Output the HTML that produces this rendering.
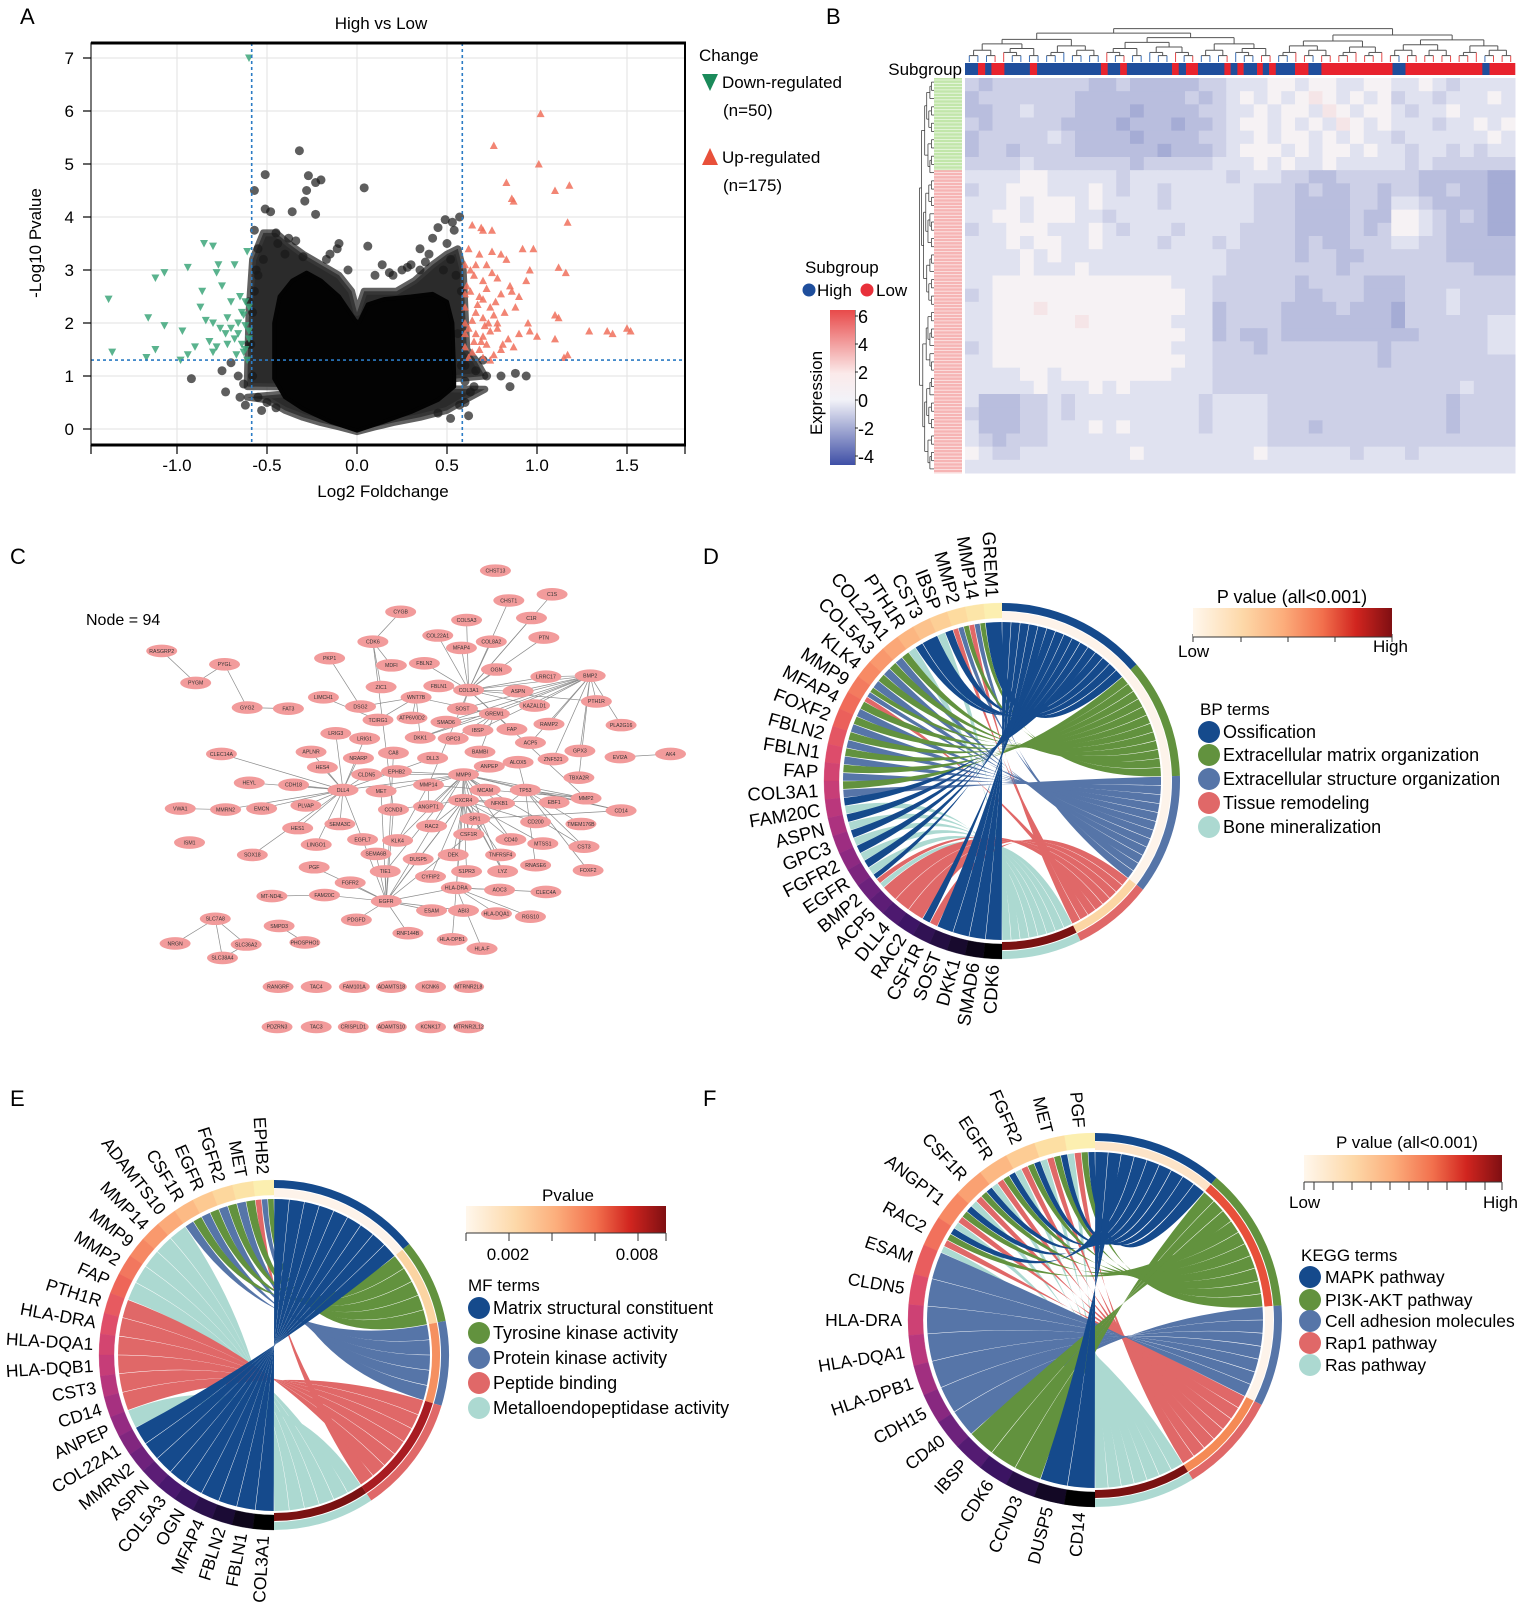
<!DOCTYPE html>
<html><head><meta charset="utf-8"><title>Figure</title>
<style>
html,body{margin:0;padding:0;background:#fff;}
svg{display:block;font-family:"Liberation Sans",Arial,sans-serif;}
</style></head>
<body>
<svg id="fig" width="1535" height="1614" viewBox="0 0 1535 1614" xmlns="http://www.w3.org/2000/svg">
<defs>
<linearGradient id="pgrad" x1="0" x2="1" y1="0" y2="0">
<stop offset="0" stop-color="#fff7ec"/><stop offset="0.25" stop-color="#fdd8a8"/><stop offset="0.45" stop-color="#fcae7c"/><stop offset="0.65" stop-color="#f2704d"/><stop offset="0.82" stop-color="#d1251f"/><stop offset="1" stop-color="#7f0f12"/>
</linearGradient>
<linearGradient id="egrad" x1="0" x2="0" y1="0" y2="1">
<stop offset="0" stop-color="#e84a4a"/><stop offset="0.41" stop-color="#fbeaea"/><stop offset="0.58" stop-color="#f2f2f8"/><stop offset="1" stop-color="#3f4fa6"/>
</linearGradient>
</defs>
<g id="panelA"></g>
<g id="panelB"></g>
<g id="panelC"></g>
<g id="panelD"></g>
<g id="panelE"></g>
<g id="panelF"></g>

<text x="20" y="24" font-size="22">A</text>
<text x="826" y="24" font-size="22">B</text>
<text x="10" y="564" font-size="22">C</text>
<text x="703" y="564" font-size="22">D</text>
<text x="10" y="1106" font-size="22">E</text>
<text x="703" y="1106" font-size="22">F</text>

<text x="381" y="29" font-size="17" text-anchor="middle">High vs Low</text>
<text x="383" y="497" font-size="17" text-anchor="middle">Log2 Foldchange</text>
<text x="0" y="0" font-size="17" text-anchor="middle" transform="translate(41,243) rotate(-90)">-Log10 Pvalue</text>
<g>
<text x="699" y="61" font-size="17">Change</text>
<path d="M702,74 L718,74 L710,91 Z" fill="#1a8a5a"/>
<text x="722" y="88" font-size="17">Down-regulated</text>
<text x="723" y="116" font-size="17">(n=50)</text>
<path d="M702,165 L718,165 L710,148 Z" fill="#e8503a"/>
<text x="722" y="163" font-size="17">Up-regulated</text>
<text x="723" y="191" font-size="17">(n=175)</text>
</g>

<g>
<text x="962" y="75" font-size="17" text-anchor="end">Subgroup</text>
<text x="805" y="273" font-size="17">Subgroup</text>
<circle cx="809" cy="290" r="6.5" fill="#1f4e9c"/>
<text x="817" y="296" font-size="17">High</text>
<circle cx="867" cy="290" r="6.5" fill="#e8303a"/>
<text x="876" y="296" font-size="17">Low</text>
<rect x="830" y="310" width="25" height="155" fill="url(#egrad)"/>
<text x="0" y="0" font-size="17" text-anchor="middle" transform="translate(822,393) rotate(-90)">Expression</text>
</g>

<text x="86" y="625" font-size="16">Node = 94</text>

<g>
<text x="1292" y="603" font-size="18" text-anchor="middle">P value (all&lt;0.001)</text>
<rect x="1193" y="608" width="199" height="29" fill="url(#pgrad)"/>
<line x1="1193" y1="637" x2="1392" y2="637" stroke="#333" stroke-width="1"/>
<text x="1178" y="657" font-size="17">Low</text>
<text x="1373" y="652" font-size="17">High</text>
<text x="1200" y="715" font-size="17">BP terms</text>
</g>
<g>
<text x="568" y="1201" font-size="17" text-anchor="middle">Pvalue</text>
<rect x="466" y="1206" width="200" height="27" fill="url(#pgrad)"/>
<line x1="466" y1="1233" x2="666" y2="1233" stroke="#333" stroke-width="1"/>
<text x="508" y="1260" font-size="17" text-anchor="middle">0.002</text>
<text x="637" y="1260" font-size="17" text-anchor="middle">0.008</text>
<text x="468" y="1291" font-size="17">MF terms</text>
</g>
<g>
<text x="1407" y="1148" font-size="17" text-anchor="middle">P value (all&lt;0.001)</text>
<rect x="1304" y="1155" width="198" height="27" fill="url(#pgrad)"/>
<line x1="1304" y1="1182" x2="1502" y2="1182" stroke="#333" stroke-width="1"/>
<text x="1289" y="1208" font-size="17">Low</text>
<text x="1483" y="1208" font-size="17">High</text>
<text x="1301" y="1261" font-size="17">KEGG terms</text>
</g>
</svg>
<script>
// ---------- DATA ----------
const volcXTicks = [-1.0, -0.5, 0.0, 0.5, 1.0, 1.5];
const volcXTickLabels = ["-1.0", "-0.5", "0.0", "0.5", "1.0", "1.5"];
const volcYTicks = [0, 1, 2, 3, 4, 5, 6, 7];
const fcThreshold = 0.585;
const pThreshold = 1.3;
// loose (overlapping-dot) envelope
const looseUpperX = [-0.61, -0.6, -0.58, -0.52, -0.45, -0.38, -0.3, -0.2, -0.1, -0.03, 0.0, 0.04, 0.12, 0.22, 0.32, 0.42, 0.5, 0.56, 0.59, 0.61, 0.66, 0.71];
const looseUpperY = [0.8, 2.2, 3.2, 3.7, 3.7, 3.5, 3.3, 3.1, 2.9, 2.6, 2.2, 2.6, 2.6, 2.6, 2.8, 3.1, 3.3, 3.4, 3.0, 1.5, 1.3, 1.0];
const looseLowerX = [-0.61, -0.5, -0.4, -0.3, -0.2, -0.1, 0.0, 0.1, 0.2, 0.35, 0.5, 0.6, 0.71];
const looseLowerY = [0.6, 0.55, 0.35, 0.22, 0.12, 0.04, -0.05, 0.04, 0.12, 0.22, 0.35, 0.55, 0.75];
// solid core envelope
const coreUpperX = [-0.46, -0.43, -0.36, -0.28, -0.2, -0.1, -0.01, 0.01, 0.06, 0.15, 0.3, 0.42, 0.5, 0.53, 0.54];
const coreUpperY = [2.0, 2.5, 2.8, 2.95, 2.8, 2.5, 2.05, 2.0, 2.35, 2.45, 2.5, 2.55, 2.4, 2.0, 1.0];
const coreLowerX = [0.54, 0.45, 0.3, 0.15, 0.0, -0.15, -0.3, -0.4, -0.46];
const coreLowerY = [0.8, 0.55, 0.32, 0.14, -0.03, 0.14, 0.38, 0.6, 0.95];
const nsX = [-0.32,-0.51,-0.27,-0.2,-0.23,0.04,-0.57,-0.28,-0.29,-0.51,-0.48,-0.36,-0.23,0.57,0.49,0.53,0.45,0.54,-0.57,-0.45,-0.38,0.06,-0.1,-0.11,0.35,0.5,0.4,-0.55,-0.52,0.25,0.2,-0.56,0.35,0.55,-0.6,-0.92,-0.75,-0.73,-0.66,-0.7,0.7,0.72,0.8,0.85,0.88,0.94,0.65,0.6,-0.55,0.45,0.6,-0.5,0.62,-0.62,0.3,0.1,-0.15,-0.4,0.14,-0.44,-0.3,0.42,0.52,-0.58,0.58,0.48,-0.6,-0.45,0.56,-0.58,-0.59,-0.57,-0.55,0.58,0.6,0.63,0.66,-0.63,-0.65,-0.53,0.52,0.57,-0.34,-0.17,0.18,0.28,-0.05,0.38];
const nsY = [5.25,4.8,4.78,4.7,4.65,4.55,4.5,4.5,4.3,4.15,4.1,4.1,4.05,4.0,3.95,3.9,3.8,3.75,3.75,3.7,3.6,3.45,3.5,3.4,3.4,3.5,3.3,3.4,3.2,3.0,2.9,3.0,3.0,2.9,2.4,0.95,1.1,0.7,1.0,1.25,1.3,1.0,1.0,0.8,1.05,1.0,0.8,0.5,0.6,0.3,1.2,0.5,0.25,0.45,3.1,2.9,3.3,3.3,3.1,3.5,3.25,3.6,3.2,2.2,2.6,3.0,1.6,0.4,1.8,1.0,1.6,2.6,2.9,1.2,0.9,0.7,1.1,0.85,0.6,0.35,0.2,0.45,3.55,3.2,2.95,3.05,3.0,3.15];
const downX = [-0.6,-0.85,-0.8,-0.94,-1.07,-1.12,-0.77,-0.78,-0.68,-0.75,-0.86,-1.38,-0.87,-0.7,-0.65,-0.62,-1.16,-1.07,-0.97,-0.8,-0.72,-0.7,-0.66,-0.63,-0.6,-0.82,-0.78,-0.73,-0.68,-0.64,-1.36,-1.12,-0.94,-0.98,-1.17,-0.8,-0.62,-0.61,-0.6,-0.61,-0.62,-0.64,-0.66,-0.6,-0.76,-0.72,-0.67,-0.84,-0.9,-0.63];
const downY = [7.0,3.5,3.45,3.05,2.95,2.85,3.1,2.95,3.1,2.7,2.6,2.45,2.3,2.4,2.5,2.4,2.1,1.95,1.85,2.0,2.1,1.9,2.0,2.15,1.85,1.65,1.55,1.8,1.7,1.6,1.45,1.5,1.4,1.3,1.35,1.45,1.5,1.3,2.3,3.35,1.95,2.2,1.8,1.7,1.9,1.6,1.4,2.05,1.55,1.45];
const upX = [1.02,0.76,1.01,0.83,1.18,1.1,0.87,0.86,1.17,0.64,0.69,0.7,0.75,0.62,0.68,0.75,0.8,0.83,0.92,0.98,0.96,1.12,1.16,0.6,0.65,0.7,0.75,0.78,0.85,0.63,0.68,0.72,0.77,0.8,0.86,0.9,0.94,0.6,0.66,0.7,0.74,0.78,0.82,0.88,0.95,1.1,1.12,0.62,0.66,0.7,0.74,0.78,0.84,0.9,0.96,1.0,1.1,1.29,1.39,1.42,1.5,1.52,0.6,0.64,0.68,0.72,0.76,0.8,0.87,1.15,1.17,0.62,0.7,0.74,0.6,0.64,0.67,0.71,0.73,0.65,0.69,0.6,0.61,0.63,0.66,0.72,0.6,0.7,0.76,0.81];
const upY = [5.95,5.35,5.0,4.65,4.6,4.5,4.3,4.35,3.9,3.85,3.8,3.75,3.75,3.4,3.3,3.35,3.3,3.2,3.4,3.4,3.0,3.05,2.95,3.1,2.9,2.8,2.95,2.85,2.7,2.6,2.5,2.65,2.4,2.55,2.6,2.5,2.8,2.3,2.2,2.1,2.3,2.0,2.2,2.3,2.0,2.15,2.1,1.9,1.8,1.75,1.85,1.9,1.7,1.8,1.85,1.75,1.7,1.85,1.85,1.8,1.9,1.85,1.55,1.45,1.5,1.6,1.4,1.5,1.55,1.35,1.4,1.35,1.35,1.3,2.0,2.05,2.35,1.95,2.0,1.65,1.65,1.8,2.7,3.0,3.1,3.1,2.55,2.45,2.15,1.6];

// heatmap
const subgroupRuns = [["H",27],["L",15],["H",13],["L",27],["H",53],["L",15],["H",133],["L",14],["H",26],["L",14],["H",94],["L",14],["H",15],["L",25],["H",55],["L",13],["H",14],["L",13],["H",28],["L",12],["H",13],["L",14],["H",40],["L",28],["H",27],["L",148],["H",27],["L",160],["H",15],["L",53]];
const rowGroups = ["G","G","G","G","G","G","G","R","R","R","R","R","R","R","R","R","R","R","R","R","R","R","R","R","R","R","R","R","R","R"];
const heatRows = [
"4344444443343333344555665665566556545555",
"3444444433333333434565656765656455455565",
"3344544433332333344556566576566545565555",
"4344444333323332334566565657656555455656",
"3444445433332333344556566565655455555565",
"3443444433333323334566656566565545545455",
"4444544444443444445556565565555545444444",
"5555665555545555555455544334444443333322",
"4556665556545545555554443433443443343322",
"5556566656555545555554443333443554333322",
"5566566655455555555554443333433665434322",
"4556665556545554555544443333434665433322",
"5556566556555545554544443433444554433333",
"5555656555555555555444443443344444433333",
"5555655565555555555444444443444444444333",
"5566666666666665554444443444433344444444",
"4566666666666666554444443344433344454444",
"5566676666666666553444433334333244454444",
"5566666676666665553444433333333244444455",
"5566666666666666553433433333333334444455",
"4566666666666665554443444444443444444455",
"5566666666666666554444444444443444444444",
"5555665666666665554444444444444444444444",
"5555565556565555554444444444444444445444",
"5333445455555555545555444444444444434444",
"4333445455555555545555444444444444434444",
"5333445556565555545555444344444444434444",
"5434445555555555555555444444444444444444",
"6544555555556555555556555555455545555555",
"5555555555555555555555555555555555555555"];
const exprTicks = [6, 4, 2, 0, -2, -4];

// network
const netNodes = "CHST13,481,554;CHST1,494,583;C1S,536,577;C1R,516,600;CYGB,389,594;COL5A3,453,602;COL22A1,425,617;COL8A2,477,623;MFAP4,448,629;PTN,528,619;CDK6,362,623;FBLN2,412,644;OGN,482,650;MDFI,380,646;PKP1,320,639;RASGRP2,157,632;PYGL,218,645;PYGM,190,663;BMP2,573,656;LRRC17,530,657;ASPN,503,671;COL3A1,455,670;FBLN1,426,666;ZIC1,370,667;LIMCH1,314,677;GYG2,240,687;FAT3,280,688;DSG2,350,686;TCIRG1,367,699;WNT7B,404,677;SOST,449,688;KAZALD1,519,685;PTH1R,579,681;GREM1,480,693;ATP6V0D2,400,697;SMAD6,433,701;RAMP2,533,703;PLA2G16,603,704;LRIG3,326,712;LRIG1,354,717;IBSP,464,709;FAP,497,708;CLEC14A,215,732;APLNR,302,730;DKK1,408,716;GPC3,440,717;BAMBI,466,730;ACP5,515,721;GPX3,563,729;EVI2A,602,735;AK4,651,732;HES4,313,745;NRARP,348,736;CA8,382,731;DLL3,420,736;ALOX5,503,740;ZNF521,537,737;HEYL,242,760;MMRN2,219,786;EMCN,254,785;CDH18,285,762;CLDN5,356,752;EPHB2,385,749;MMP9,450,752;ANPEP,475,744;TBXA2R,562,755;VWA1,175,785;PLVAP,297,782;DLL4,333,767;MET,370,768;MMP14,416,762;MCAM,471,767;TP53,510,767;MMP2,569,775;CXCR4,450,777;NFKB1,485,780;EBF1,538,779;ANGPT1,416,783;CCND3,382,786;CD14,603,787;ISM1,184,818;SEMA3C,330,800;KLK4,386,816;RAC2,419,802;SPI1,461,795;CD200,520,798;TMEM176B,564,800;HES1,289,804;EGFL7,352,815;CSF1R,455,810;CD40,496,815;MTSS1,527,819;CST3,567,822;SOX18,245,830;LINGO1,307,820;SEMA6B,365,829;DUSP5,406,834;DEK,440,830;TNFRSF4,486,830;RNASE6,520,840;FOXF2,571,845;PGF,305,842;TIE1,374,846;CYFIP2,418,851;S1PR3,453,846;LYZ,488,846;FGFR2,340,857;HLA-DRA,443,862;AOC3,485,864;CLEC4A,530,866;MT-ND4L,264,870;FAM20C,315,869;EGFR,375,875;ESAM,419,884;ABI3,450,884;HLA-DQA1,482,887;RGS10,515,890;PDGFD,346,893;SLC7A8,209,892;SMPD3,271,899;PHOSPHO1,296,915;RNF144B,396,906;HLA-DPB1,439,912;HLA-F,468,921;NRGN,170,916;SLC36A2,239,917;SLC38A4,216,930;RANGRF,270,958;TAC4,307,958;FAM101A,344,958;ADAMTS18,380,958;KCNK6,418,958;MTRNR2L8,455,958;PDZRN3,269,997;TAC3,307,997;CRISPLD1,343,997;ADAMTS10,380,997;KCNK17,418,997;MTRNR2L12,455,997";
const netEdges = [
["COL3A1","COL5A3 FBLN1 FBLN2 MFAP4 OGN ASPN COL8A2 COL22A1 SOST GREM1 LRRC17 BMP2 KAZALD1 FAP PTH1R MMP2 MMP14 CHST1 C1S C1R PTN"],
["BMP2","GREM1 SOST PTH1R DKK1 SMAD6 KAZALD1 RAMP2 ACP5 IBSP ZNF521 GPX3 LRRC17 ASPN TBXA2R PLA2G16"],
["GREM1","SOST DKK1 BAMBI SMAD6 GPC3 IBSP FAP WNT7B"],
["MMP9","MMP2 MMP14 CXCR4 SPI1 CSF1R CD14 EGFR TIE1 DLL4 ANGPT1 ALOX5 TP53 MCAM ANPEP KLK4 CST3 LYZ CD40 HLA-DRA MET CLDN5 EPHB2 NFKB1"],
["CXCR4","SPI1 CSF1R CD40 LYZ TNFRSF4 HLA-DRA S1PR3 CYFIP2 DUSP5 DEK CCND3 RAC2 EGFR CD200 MTSS1 EBF1 NFKB1"],
["EGFR","FGFR2 MET PGF PDGFD TIE1 ESAM HLA-DRA FAM20C EGFL7 SEMA6B TP53 CCND3 DUSP5 ABI3 RNF144B CA8"],
["DLL4","HES1 HES4 HEYL NRARP DLL3 EMCN CLDN5 PLVAP APLNR CDH18 LRIG1 LRIG3 SEMA3C EGFL7 LINGO1 SOX18 MMRN2 CLEC14A"],
["HLA-DRA","HLA-DQA1 HLA-DPB1 HLA-F AOC3 RGS10 CLEC4A"],
["TP53","MMP2 CD14 TMEM176B CST3 FOXF2 RNASE6 ALOX5"],
["CDK6","CCND3 ZIC1 MDFI CYGB"],
["WNT7B","DKK1 ATP6V0D2 DSG2 TCIRG1"],
["PYGL","PYGM GYG2"],["PYGM","RASGRP2"],["GYG2","FAT3"],["LIMCH1","TCIRG1"],["PKP1","DSG2"],
["SLC7A8","NRGN SLC36A2 SLC38A4"],["SLC36A2","SLC38A4"],["SMPD3","PHOSPHO1"],["MT-ND4L","FAM20C"],
["VWA1","MMRN2"],["EVI2A","AK4"],["SPI1","CD14 LYZ CSF1R"],["MMP14","MMP2 KLK4 ANGPT1"]];

// chords
const termColors = ["#154a8c", "#62923e", "#5675a8", "#e06868", "#acd9d1"];
const geneRingColors = ["#fcefb0","#fdd49a","#fcb27e","#f78b64","#ee6458","#dc4a6c","#bd387c","#962b82","#6b217c","#41166a","#1f0d3c","#000000"];
const dGenes = ["GREM1","MMP14","MMP2","IBSP","CST3","PTH1R","COL22A1","COL5A3","KLK4","MMP9","MFAP4","FOXF2","FBLN2","FBLN1","FAP","COL3A1","FAM20C","ASPN","GPC3","FGFR2","EGFR","BMP2","ACP5","DLL4","RAC2","CSF1R","SOST","DKK1","SMAD6","CDK6"];
const dMembership = [[0],[1,2,3],[1,2,3],[0,4],[0],[0,4],[1,2],[1,2],[1,2],[1,2,3],[1,2],[1,2],[1,2],[1,2],[1,2],[1,2],[0,4],[0,4],[0,4],[0,4],[0,4],[0,3,4],[3],[3],[3],[0,3],[0],[0],[0],[0]];
const dTerms = ["Ossification","Extracellular matrix organization","Extracellular structure organization","Tissue remodeling","Bone mineralization"];
const dTermP = ["#fdf3ea","#fdf3ea","#fdf3ea","#fcd6a4","#7a1212"];
const eGenes = ["EPHB2","MET","FGFR2","EGFR","CSF1R","ADAMTS10","MMP14","MMP9","MMP2","FAP","PTH1R","HLA-DRA","HLA-DQA1","HLA-DQB1","CST3","CD14","ANPEP","COL22A1","MMRN2","ASPN","COL5A3","OGN","MFAP4","FBLN2","FBLN1","COL3A1"];
const eMembership = [[1,2,3],[1,2],[1,2],[1,2],[1,2],[4],[4],[4],[4],[4],[3],[3],[3],[3],[3],[3],[4],[0],[0],[0],[0],[0],[0],[0],[0],[0]];
const eTerms = ["Matrix structural constituent","Tyrosine kinase activity","Protein kinase activity","Peptide binding","Metalloendopeptidase activity"];
const eTermP = ["#fdf3ea","#fbd4a2","#f59060","#a81c22","#7a1212"];
const fGenes = ["PGF","MET","FGFR2","EGFR","CSF1R","ANGPT1","RAC2","ESAM","CLDN5","HLA-DRA","HLA-DQA1","HLA-DPB1","CDH15","CD40","IBSP","CDK6","CCND3","DUSP5","CD14"];
const fMembership = [[0,1,3,4],[0,1,3,4],[0,1,3,4],[0,1,3,4],[0,1,3,4],[0,1,3,4],[0,1,3,4],[2],[2],[2],[2],[2],[2],[2],[1],[1],[1],[0],[0]];
const fTerms = ["MAPK pathway","PI3K-AKT pathway","Cell adhesion molecules","Rap1 pathway","Ras pathway"];
const fTermP = ["#fde4c8","#e8503a","#fdf3ea","#f58a55","#7a1212"];

// ---------- HELPERS ----------
const NS = "http://www.w3.org/2000/svg";
function mk(tag, attrs, parent) {
  const e = document.createElementNS(NS, tag);
  for (const k in attrs) e.setAttribute(k, attrs[k]);
  parent.appendChild(e);
  return e;
}
function hex2rgb(h){return [parseInt(h.substr(1,2),16),parseInt(h.substr(3,2),16),parseInt(h.substr(5,2),16)];}
function lerpCol(a,b,t){const A=hex2rgb(a),B=hex2rgb(b);return "rgb("+A.map((v,i)=>Math.round(v+(B[i]-v)*t)).join(",")+")";}
function paletteAt(pal,t){const n=pal.length-1;const i=Math.min(n-1,Math.floor(t*n));return lerpCol(pal[i],pal[i+1],t*n-i);}

// ---------- PANEL A ----------
(function(){
  const g = document.getElementById("panelA");
  const vx = v => 357 + 180 * v, vy = v => 429 - 53 * v;
  const L = 91, R = 685, T = 43, B = 445;
  volcXTicks.forEach(v => {
    const l = mk("line",{x1:vx(v),x2:vx(v),y1:T,y2:B,stroke:"#e6e6e6","stroke-width":1.2},g);
    
    
  });
  volcYTicks.forEach(v => {
    const l = mk("line",{x1:L,x2:R,y1:vy(v),y2:vy(v),stroke:"#e6e6e6","stroke-width":1.2},g);
    
    
  });
  function envPath(ux,uy,lx,ly){
    let d = "";
    ux.forEach((x,i)=>{ d += (i?"L":"M") + vx(x).toFixed(1) + "," + vy(uy[i]).toFixed(1); });
    lx.forEach((x,i)=>{ d += "L" + vx(x).toFixed(1) + "," + vy(ly[i]).toFixed(1); });
    return d+"Z";
  }
  const loose = mk("path",{d:envPath(looseUpperX,looseUpperY,looseLowerX,looseLowerY),fill:"#2b2b2b",stroke:"#3a3a3a","stroke-width":7,"stroke-linejoin":"round","stroke-opacity":0.8},g);
  
  
  nsX.forEach((x,i)=>{
    const c = mk("circle",{cx:vx(x),cy:vy(nsY[i]),r:4.5,fill:"#1a1a1a","fill-opacity":0.7},g);
    
    
  });
  const core = mk("path",{d:envPath(coreUpperX,coreUpperY,coreLowerX,coreLowerY),fill:"#030303",stroke:"#030303","stroke-width":4,"stroke-linejoin":"round"},g);
  
  
  downX.forEach((x,i)=>{
    const cx=vx(x), cy=vy(downY[i]);
    const p = mk("path",{d:`M${cx-4},${cy-3.5}L${cx+4},${cy-3.5}L${cx},${cy+4}Z`,fill:"#3da67a","fill-opacity":0.85},g);
    
    
  });
  upX.forEach((x,i)=>{
    const cx=vx(x), cy=vy(upY[i]);
    const p = mk("path",{d:`M${cx-4},${cy+3.5}L${cx+4},${cy+3.5}L${cx},${cy-4}Z`,fill:"#f0705c","fill-opacity":0.85},g);
    
    
  });
  [-fcThreshold, fcThreshold].forEach(v=>{
    const l = mk("line",{x1:vx(v),x2:vx(v),y1:T,y2:B,stroke:"#2b7bc4","stroke-width":1.6,"stroke-dasharray":"3,3"},g);
    
    
  });
  const hl = mk("line",{x1:L,x2:R,y1:vy(pThreshold),y2:vy(pThreshold),stroke:"#2b7bc4","stroke-width":1.6,"stroke-dasharray":"3,3"},g);
  
  
  const box = mk("rect",{x:L,y:T,width:R-L,height:B-T,fill:"none",stroke:"#222","stroke-width":1.2},g);
  
  
  [T,B].forEach(y=>{
    const l = mk("line",{x1:L,x2:R+1,y1:y,y2:y,stroke:"#000","stroke-width":3},g);
    
    
  });
  const rl = mk("line",{x1:R,x2:R,y1:T,y2:B,stroke:"#000","stroke-width":2},g);
  
  
  volcXTicks.forEach((v,i)=>{
    const t = mk("line",{x1:vx(v),x2:vx(v),y1:B,y2:B+9,stroke:"#000","stroke-width":1.2},g);
    
    
    const tx = mk("text",{x:vx(v),y:B+26,"font-size":17,"text-anchor":"middle"},g);
    tx.textContent = volcXTickLabels[i];
    
    
  });
  [L,R].forEach(x=>{
    const t = mk("line",{x1:x,x2:x,y1:B,y2:B+9,stroke:"#000","stroke-width":1.2},g);
    
    
  });
  volcYTicks.forEach(v=>{
    const t = mk("line",{x1:L-8,x2:L,y1:vy(v),y2:vy(v),stroke:"#000","stroke-width":1.2},g);
    
    
    const tx = mk("text",{x:74,y:vy(v)+6,"font-size":17,"text-anchor":"end"},g);
    tx.textContent = String(v);
    
    
  });
})();

// ---------- PANEL B ----------
(function(){
  const g = document.getElementById("panelB");
  const hx0=965, hx1=1515, hy0=78, hy1=473;
  const nR = heatRows.length, nC = heatRows[0].length;
  const cw=(hx1-hx0)/nC, ch=(hy1-hy0)/nR;
  function hcol(v){ return v<0 ? lerpCol("#f4f4f9","#3f4fa6",Math.min(1,-v/4.6)) : lerpCol("#f6f2f4","#e84a4a",Math.min(1,v/6.4)); }
  heatRows.forEach((row,r)=>{
    for(let c=0;c<nC;c++){
      const v=(parseInt(row[c])-6)*0.5;
      const rc = mk("rect",{x:(hx0+c*cw).toFixed(2),y:(hy0+r*ch).toFixed(2),width:(cw+0.5).toFixed(2),height:(ch+0.5).toFixed(2),fill:hcol(v)},g);
      
      
    }
  });
  const tot = subgroupRuns.reduce((s,r)=>s+r[1],0);
  let acc=0;
  const sgAt = [];
  subgroupRuns.forEach(r=>{
    const x0 = hx0 + acc/tot*(hx1-hx0), w = r[1]/tot*(hx1-hx0);
    const rc = mk("rect",{x:x0,y:63,width:w+0.3,height:12,fill:r[0]==="H"?"#1f4e9c":"#e8232e"},g);
    
    
    sgAt.push([x0,x0+w,r[0]]);
    acc+=r[1];
  });
  function groupAt(x){ for(const s of sgAt) if(x>=s[0]&&x<s[1]) return s[2]; return "L"; }
  const nLeaf=64, lw=(hx1-hx0)/nLeaf;
  function build(lo,hi,dp){
    if(hi-lo===1){ const x=hx0+(lo+0.5)*lw; return {x:x,y:62,col:groupAt(x)==="H"?"#3a6fb8":"#e84a4a"}; }
    const m = lo+Math.max(1,Math.min(hi-lo-1,Math.round((hi-lo)*(dp%2?0.45:0.56))));
    const a=build(lo,m,dp+1), b=build(m,hi,dp+1);
    const y = 62-5.4*Math.log2(hi-lo)-1;
    [[a,a.col],[b,b.col]].forEach(([n,cc])=>{
      const l = mk("line",{x1:n.x,x2:n.x,y1:n.y,y2:y,stroke:(n.y===62?cc:"#555"),"stroke-width":1},g);
      
      
    });
    const h = mk("line",{x1:a.x,x2:b.x,y1:y,y2:y,stroke:"#555","stroke-width":1},g);
    
    
    return {x:(a.x+b.x)/2,y:y,col:"#555"};
  }
  build(0,nLeaf,0);
  rowGroups.forEach((gr,r)=>{
    const rc = mk("rect",{x:934,y:hy0+r*ch,width:28,height:ch+0.3,fill:gr==="G"?"#c2e6aa":"#f6b4b4"},g);
    
    
  });
  for(let y=hy0+2; y<hy1; y+=3.3){
    const l = mk("line",{x1:934,x2:962,y1:y,y2:y,stroke:"#fff","stroke-width":0.8,"stroke-opacity":0.7},g);
    
    
  }
  const nRL=48, rh=(hy1-hy0)/nRL;
  function buildR(lo,hi,dp){
    if(hi-lo===1){ return {x:934,y:hy0+(lo+0.5)*rh}; }
    const m = lo+Math.max(1,Math.min(hi-lo-1,Math.round((hi-lo)*(dp%2?0.42:0.58))));
    const a=buildR(lo,m,dp+1), b=buildR(m,hi,dp+1);
    const x = 934-2.6*Math.log2(hi-lo);
    [a,b].forEach(n=>{
      const l = mk("line",{x1:n.x,x2:x,y1:n.y,y2:n.y,stroke:"#444","stroke-width":0.8},g);
      
      
    });
    const v = mk("line",{x1:x,x2:x,y1:a.y,y2:b.y,stroke:"#444","stroke-width":0.8},g);
    
    
    return {x:x,y:(a.y+b.y)/2};
  }
  buildR(0,nRL,0);
  exprTicks.forEach(v=>{
    const y = 400-14*v;
    const t = mk("line",{x1:852,x2:858,y1:y,y2:y,stroke:"#222","stroke-width":1},g);
    
    
    const tx = mk("text",{x:858,y:y+7,"font-size":18},g);
    tx.textContent = String(v);
    
    
  });
  const ax = mk("line",{x1:855,x2:855,y1:310,y2:465,stroke:"#222","stroke-width":1},g);
  
  
})();

// ---------- PANEL C ----------
(function(){
  const g = document.getElementById("panelC");
  const S = 1.03;
  const pos = {};
  const nodes = netNodes.split(";").map(s=>{const p=s.split(",");return [p[0],+p[1]*S,+p[2]*S];});
  nodes.forEach(n=>pos[n[0]]=n);
  const eg = mk("g",{},g);
  
  
  netEdges.forEach(([h,list])=>{
    list.split(" ").forEach(t=>{
      if(!pos[h]||!pos[t]) return;
      const l = mk("line",{x1:pos[h][1],y1:pos[h][2],x2:pos[t][1],y2:pos[t][2],stroke:"#8a8a8a","stroke-width":0.7},eg);
      
      
    });
  });
  nodes.forEach(n=>{
    const e = mk("ellipse",{cx:n[1],cy:n[2],rx:15.5,ry:6.3,fill:"#f29b9b"},g);
    
    
    const t = mk("text",{x:n[1],y:n[2]+1.8,"font-size":5.2,"text-anchor":"middle",fill:"#333"},g);
    t.textContent = n[0];
    
    
  });
})();

// ---------- CHORDS ----------
function chord(gid, cx, cy, R, genes, memb, termP, labelSize, prefix){
  const g = document.getElementById(gid);
  const P = (r,a)=>{const t=(a-90)*Math.PI/180;return [cx+r*Math.cos(t),cy+r*Math.sin(t)];};
  const f = p=>p[0].toFixed(2)+","+p[1].toFixed(2);
  function sector(r1,r2,a1,a2){
    const lg = (a2-a1)>180?1:0;
    return "M"+f(P(r2,a1))+"A"+r2+","+r2+" 0 "+lg+" 1 "+f(P(r2,a2))+"L"+f(P(r1,a2))+"A"+r1+","+r1+" 0 "+lg+" 0 "+f(P(r1,a1))+"Z";
  }
  const n = genes.length, w = 180/n;
  const counts=[0,0,0,0,0];
  memb.forEach(m=>m.forEach(t=>counts[t]++));
  const total = counts.reduce((a,b)=>a+b,0);
  const unit = 180/total;
  const tStart=[]; let acc=0;
  counts.forEach((c,i)=>{tStart.push(acc); acc+=180*c/total;});
  // slot assignment: last gene attaches at term start
  const slot = {};
  for(let t=0;t<5;t++){
    let k=0;
    for(let i=n-1;i>=0;i--){ if(memb[i].indexOf(t)>=0){ slot[i+"_"+t]=k++; } }
  }
  const Rr = R-19;
  const rg = mk("g",{},g);
  
  
  memb.forEach((m,i)=>{
    const k=m.length;
    m.slice().sort((a,b)=>a-b).forEach((t,j)=>{
      const ghi = 360-i*w-j*(w/k)-0.1, glo = ghi-w/k+0.2;
      const t1 = tStart[t]+slot[i+"_"+t]*unit+0.1, t2 = t1+unit-0.2;
      const d = "M"+f(P(Rr,glo))+"A"+Rr+","+Rr+" 0 0 1 "+f(P(Rr,ghi))+"Q"+cx+","+cy+" "+f(P(Rr,t2))+"A"+Rr+","+Rr+" 0 0 0 "+f(P(Rr,t1))+"Q"+cx+","+cy+" "+f(P(Rr,glo))+"Z";
      const p = mk("path",{d:d,fill:termColors[t]},rg);
      
      
    });
  });
  genes.forEach((gn,i)=>{
    const a2 = 360-i*w, a1 = a2-w;
    const s = mk("path",{d:sector(R-15,R,a1,a2),fill:paletteAt(geneRingColors,i/(n-1)),stroke:paletteAt(geneRingColors,i/(n-1)),"stroke-width":0.3},g);
    
    
    const am=(a1+a2)/2, p=P(R+6,am);
    const t = mk("text",{x:p[0].toFixed(1),y:p[1].toFixed(1),"font-size":labelSize,"text-anchor":"end","dominant-baseline":"central",transform:"rotate("+(am+90).toFixed(2)+" "+p[0].toFixed(1)+" "+p[1].toFixed(1)+")"},g);
    t.textContent = gn;
    
    
  });
  counts.forEach((c,i)=>{
    const a1=tStart[i], a2=a1+180*c/total;
    const s = mk("path",{d:sector(R-8,R,a1,a2),fill:termColors[i]},g);
    
    
    const s2 = mk("path",{d:sector(R-17,R-9,a1,a2),fill:termP[i]},g);
    
    
  });
}
chord("panelD",1002,781,178,dGenes,dMembership,dTermP,18.5,"bp");
chord("panelE",274,1355,175,eGenes,eMembership,eTermP,17.5,"mf");
chord("panelF",1095,1320,187,fGenes,fMembership,fTermP,17.5,"kegg");

function termLegend(gid, names, x, ys, tx, fs, prefix){
  const g = document.getElementById(gid);
  names.forEach((nm,i)=>{
    const c = mk("circle",{cx:x,cy:ys[i],r:11,fill:termColors[i]},g);
    
    
    const t = mk("text",{x:tx,y:ys[i]+6,"font-size":fs},g);
    t.textContent = nm;
    
    
  });
}
termLegend("panelD", dTerms, 1209, [732,755,779,803,827], 1223, 18, "bp");
termLegend("panelE", eTerms, 479, [1308,1333,1358,1383,1408], 493, 18, "mf");
termLegend("panelF", fTerms, 1310, [1277,1300,1321,1343,1365], 1325, 17.5, "kegg");
function pTicks(gid, xs, y, prefix){
  const g = document.getElementById(gid);
  xs.forEach(x=>{
    const t = mk("line",{x1:x,x2:x,y1:y,y2:y+8,stroke:"#333","stroke-width":1},g);
    
    
  });
}
pTicks("panelD",[1193,1241,1288,1335,1392],634,"bp");
pTicks("panelE",[466,509,552,595,638,666],1233,"mf");
pTicks("panelF",[1304,1314,1333,1352,1371,1390,1409,1428,1447,1466,1485,1502],1182,"kegg");
</script>
</body></html>
